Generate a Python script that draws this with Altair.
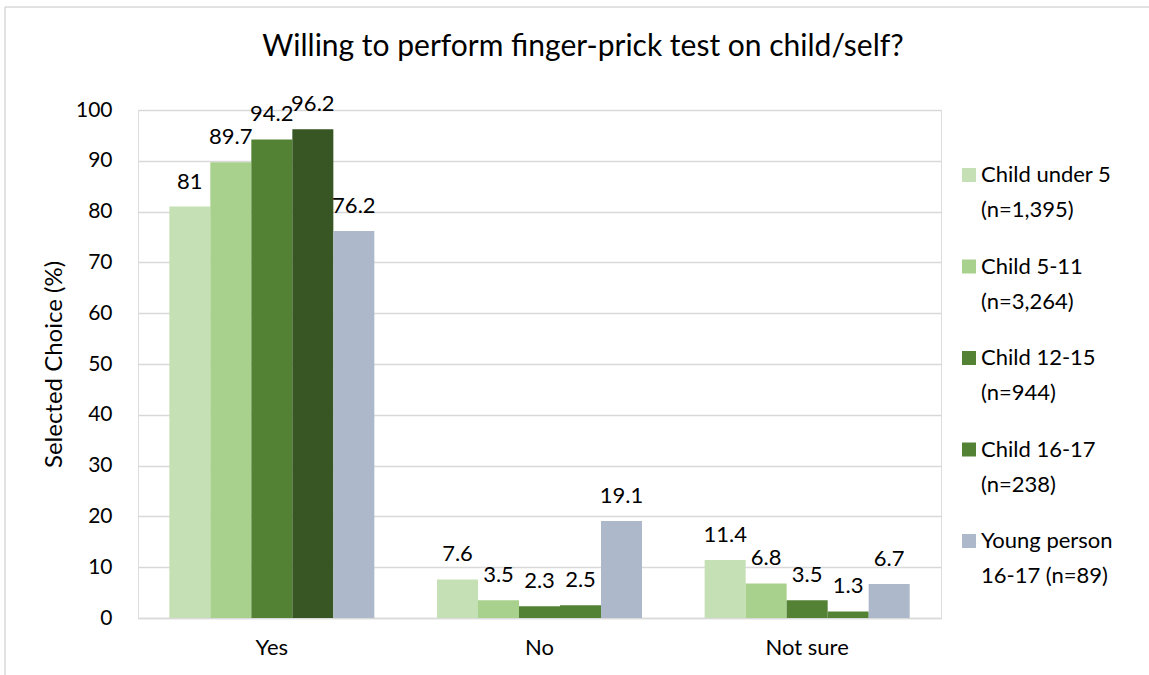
import altair as alt
import pandas as pd

# Survey responses and respondent groups
responses = ["Yes", "No", "Not sure"]
groups = [
    "Child under 5 (n=1,395)",
    "Child 5-11 (n=3,264)",
    "Child 12-15 (n=944)",
    "Child 16-17 (n=238)",
    "Young person 16-17 (n=89)",
]
# Legend text broken over two lines
legend_line1 = ["Child under 5", "Child 5-11", "Child 12-15", "Child 16-17", "Young person"]
legend_line2 = ["(n=1,395)", "(n=3,264)", "(n=944)", "(n=238)", "16-17 (n=89)"]

yes_pct = [81, 89.7, 94.2, 96.2, 76.2]
no_pct = [7.6, 3.5, 2.3, 2.5, 19.1]
notsure_pct = [11.4, 6.8, 3.5, 1.3, 6.7]

colors = ["#C5E0B4", "#A9D18E", "#548235", "#548235", "#ADB9CA"]
highlight = "#375623"
title_text = "Willing to perform finger-prick test on child/self?"

rows = []
for resp, vals in zip(responses, [yes_pct, no_pct, notsure_pct]):
    for i, (g, v) in enumerate(zip(groups, vals)):
        rows.append({"response": resp, "group": g, "pct": v})
df = pd.DataFrame(rows)

legend_df = pd.DataFrame({
    "group": groups,
    "row": list(range(len(groups))),
    "line1": legend_line1,
    "line2": legend_line2,
})

FONT = "Lato"
FS = 22

color_scale = alt.Scale(domain=groups, range=colors)
pct_scale = alt.Scale(domain=[0, 100])

x_enc = alt.X(
    "response:N",
    sort=responses,
    title=None,
    scale=alt.Scale(paddingInner=0.234, paddingOuter=0.117),
    axis=alt.Axis(
        labelFont=FONT, labelFontSize=FS, labelColor="#000000", labelPadding=19,
        ticks=False, domainColor="#D9D9D9", domainWidth=1.5, labelAngle=0,
    ),
)
y_enc = alt.Y(
    "pct:Q",
    title="Selected Choice (%)",
    scale=pct_scale,
    axis=alt.Axis(
        values=list(range(0, 101, 10)), labelFont=FONT, labelFontSize=FS - 1,
        labelColor="#000000", labelPadding=26, ticks=False, domain=False,
        gridColor="#D9D9D9", gridWidth=1.5, titleFont=FONT, titleFontSize=24,
        titleFontWeight="normal", titleColor="#000000", titlePadding=9,
    ),
)

bars = alt.Chart(df).mark_bar().encode(
    x=x_enc,
    y=y_enc,
    xOffset=alt.XOffset("group:N", sort=groups, scale=alt.Scale(paddingInner=0, paddingOuter=0)),
    color=alt.condition(
        "datum.response == 'Yes' && datum.group == 'Child 16-17 (n=238)'",
        alt.value(highlight),
        alt.Color("group:N", sort=groups, scale=color_scale, legend=None),
    ),
)

labels = alt.Chart(df).mark_text(
    baseline="bottom", dy=-13, font=FONT, fontSize=FS, color="#000000"
).encode(
    x=alt.X("response:N", sort=responses),
    xOffset=alt.XOffset("group:N", sort=groups),
    y=alt.Y("pct:Q", scale=pct_scale, axis=None),
    text=alt.Text("pct:Q"),
)

# Legend to the right of the plot: one square and two text lines per group
legend_y = alt.Y("row:O", axis=None, scale=alt.Scale(type="point", range=[65, 431], padding=0))
legend_sq = alt.Chart(legend_df).mark_square(size=196, opacity=1).encode(
    x=alt.value(831),
    y=legend_y,
    color=alt.Color("group:N", sort=groups, scale=color_scale, legend=None),
)
legend_t1 = alt.Chart(legend_df).mark_text(
    align="left", baseline="middle", font=FONT, fontSize=FS, color="#000000"
).encode(x=alt.value(843), y=legend_y, text="line1:N")
legend_t2 = alt.Chart(legend_df).mark_text(
    align="left", baseline="middle", font=FONT, fontSize=FS, color="#000000", dy=35
).encode(x=alt.value(843), y=legend_y, text="line2:N")

# Chart title, centred over the plot and legend
title = alt.Chart().mark_text(
    font=FONT, fontSize=30, color="#000000", baseline="middle", align="center"
).encode(x=alt.value(445), y=alt.value(-63), text=alt.value(title_text))

# Outer frame: top and left edges
frame_top = alt.Chart().mark_rule(color="#D9D9D9", strokeWidth=1.5).encode(
    x=alt.value(-133), x2=alt.value(1011), y=alt.value(-103)
)
frame_left = alt.Chart().mark_rule(color="#D9D9D9", strokeWidth=1.5).encode(
    x=alt.value(-133), y=alt.value(-103), y2=alt.value(570)
)

chart = alt.layer(
    bars, labels, legend_sq, legend_t1, legend_t2, title, frame_top, frame_left
).resolve_scale(y="independent").properties(
    width=803,
    height=508,
    autosize="none",
    padding={"left": 138, "top": 110, "right": 208, "bottom": 57},
).configure_view(stroke=None).configure(background="white")

chart.save("out.html", embed_options={"renderer": "svg", "actions": False})
